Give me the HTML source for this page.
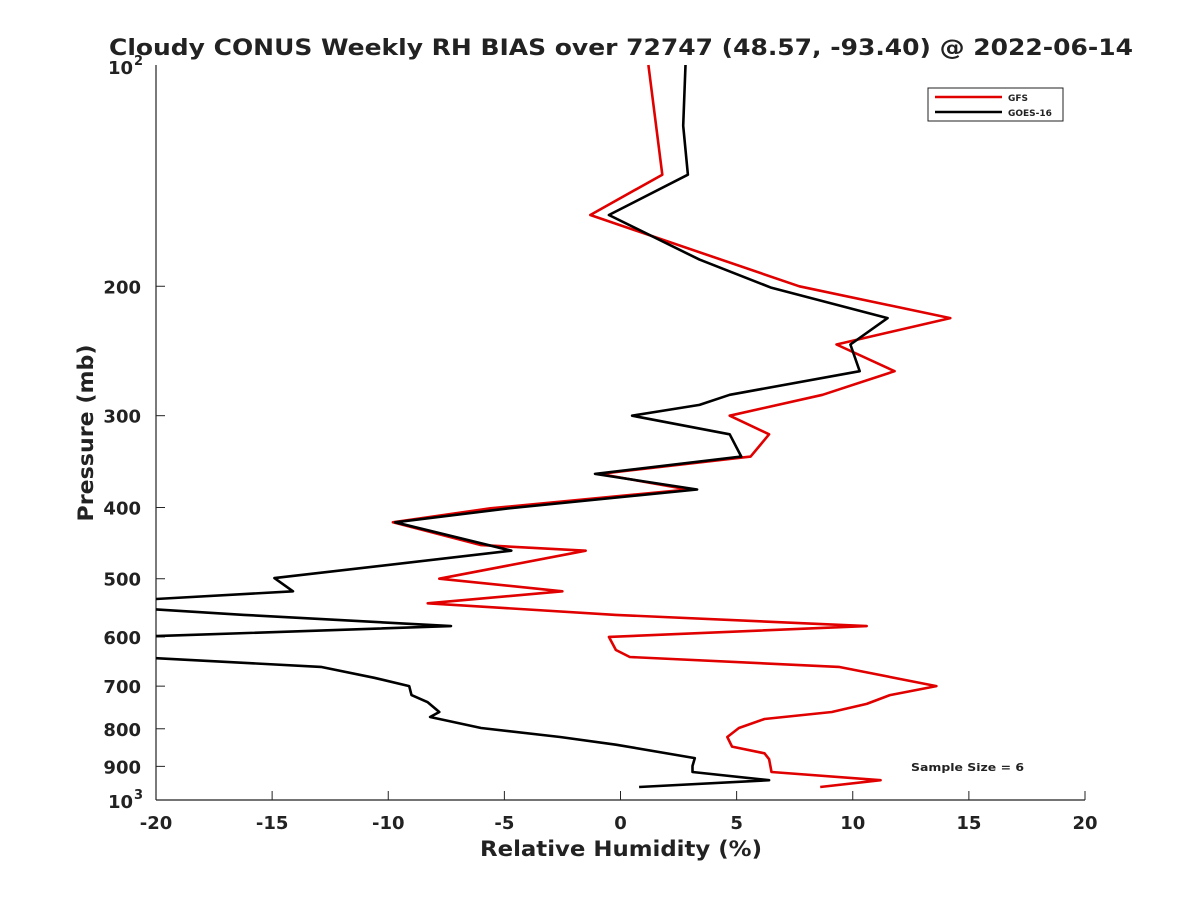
<!DOCTYPE html>
<html><head><meta charset="utf-8"><style>
body{margin:0;background:#fff;}
svg{font-family:"DejaVu Sans","Liberation Sans",sans-serif;font-weight:bold;}
</style></head><body>
<svg id="chart" width="1200" height="900" xmlns="http://www.w3.org/2000/svg">
<defs><clipPath id="plotclip"><rect x="156" y="60" width="929" height="745"/></clipPath></defs>
<text x="621" y="55" text-anchor="middle" font-size="22" fill="#222" textLength="1024" lengthAdjust="spacingAndGlyphs">Cloudy CONUS Weekly RH BIAS over 72747 (48.57, -93.40) @ 2022-06-14</text>
<g id="axes"></g>
<g id="series" clip-path="url(#plotclip)"></g>
<g>
<rect x="928" y="88" width="135" height="33" fill="#fff" stroke="#222" stroke-width="1"/>
<line x1="935" y1="97" x2="1002" y2="97" stroke="#e00000" stroke-width="2.5"/>
<text x="1008" y="101" font-size="9" fill="#222">GFS</text>
<line x1="935" y1="112" x2="1002" y2="112" stroke="#000" stroke-width="2.5"/>
<text x="1008" y="116" font-size="9" fill="#222">GOES-16</text>
</g>
<text x="911" y="771" font-size="11" fill="#222" textLength="113" lengthAdjust="spacingAndGlyphs">Sample Size = 6</text>
<text x="621" y="856" text-anchor="middle" font-size="21" fill="#222" textLength="282" lengthAdjust="spacingAndGlyphs">Relative Humidity (%)</text>
<text transform="translate(93,433) rotate(-90)" text-anchor="middle" font-size="21" fill="#222" textLength="177" lengthAdjust="spacingAndGlyphs">Pressure (mb)</text>
</svg>
<script>
const xTicks=[-20,-15,-10,-5,0,5,10,15,20];
const yTicks=[200,300,400,500,600,700,800,900];
const gfsP=[100,141,160,200,221,240,261,281,300,318,341,360,378,401,419,450,458,500,520,540,560,580,600,625,639,659,700,720,740,759,776,798,821,846,864,880,916,940,960];
const gfsV=[1.2,1.8,-1.3,7.7,14.2,9.3,11.8,8.7,4.7,6.4,5.6,-0.9,2.9,-5.6,-9.8,-6.0,-1.5,-7.8,-2.5,-8.3,-0.2,10.6,-0.5,-0.2,0.4,9.4,13.6,11.6,10.6,9.1,6.2,5.1,4.6,4.8,6.2,6.4,6.5,11.2,8.6];
const goesP=[100,121,141,160,184,201,221,240,261,281,290,300,318,341,360,378,401,419,458,499,520,535,548,560,580,600,639,659,682,700,720,736,759,771,798,821,841,877,899,916,940,960];
const goesV=[2.8,2.7,2.9,-0.5,3.4,6.5,11.5,9.9,10.3,4.7,3.4,0.5,4.7,5.2,-1.1,3.3,-4.8,-9.7,-4.7,-14.9,-14.1,-21,-21,-16.2,-7.3,-21,-21,-12.9,-10.6,-9.1,-9.0,-8.3,-7.8,-8.2,-6.0,-2.6,-0.2,3.2,3.1,3.1,6.4,0.8];
const X0=156,X1=1085,Y0=65,Y1=800;
function xs(v){return X0+(v+20)/40*(X1-X0);}
function ys(p){return Y0+(Math.log10(p)-2)*(Y1-Y0);}
const NS='http://www.w3.org/2000/svg';
function mk(t,a,parent){const e=document.createElementNS(NS,t);for(const k in a)e.setAttribute(k,a[k]);parent.appendChild(e);return e;}
const ax=document.getElementById('axes');
let l=mk('line',{x1:X0,y1:Y0,x2:X0,y2:Y1,stroke:'#222','stroke-width':1.2},ax);


l=mk('line',{x1:X0,y1:Y1,x2:X1,y2:Y1,stroke:'#222','stroke-width':1.2},ax);


xTicks.forEach(v=>{
 const x=xs(v);
 const t=mk('line',{x1:x,y1:Y1,x2:x,y2:Y1-9,stroke:'#222','stroke-width':1},ax);
 
 
 const tx=mk('text',{x:x,y:Y1+29,'text-anchor':'middle','font-size':18,fill:'#222'},ax);
 tx.textContent=v;
 
 
});
yTicks.forEach(p=>{
 const y=ys(p);
 const t=mk('line',{x1:X0,y1:y,x2:X0+9,y2:y,stroke:'#222','stroke-width':1},ax);
 
 
 const tx=mk('text',{x:X0-15,y:y+7,'text-anchor':'end','font-size':18,fill:'#222'},ax);
 tx.textContent=p;
 
 
});
[[100,'2'],[1000,'3']].forEach(([p,e])=>{
 const y=ys(p);
 const tx=mk('text',{x:X0-23,y:y+(p===100?9:8),'text-anchor':'end','font-size':18,fill:'#222'},ax);
 tx.textContent='10';
 
 
 const sp=mk('text',{x:X0-22,y:y-(p===100?0:1),'font-size':13,fill:'#222'},ax);
 sp.textContent=e;
 
 
});
const sg=document.getElementById('series');
function line(P,V,color,name){
 const d=P.map((p,i)=>(i?'L':'M')+xs(V[i]).toFixed(1)+','+ys(p).toFixed(1)).join(' ');
 const pth=mk('path',{d:d,fill:'none',stroke:color,'stroke-width':2.6,'stroke-linejoin':'round'},sg);
 
 
}
line(gfsP,gfsV,'#e00000','gfs-line');
line(goesP,goesV,'#000','goes16-line');
</script>
</body></html>
